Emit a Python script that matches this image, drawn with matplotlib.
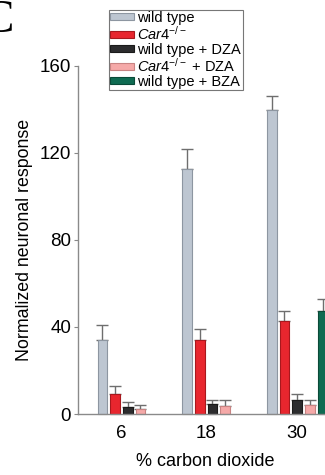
import matplotlib
matplotlib.use("Agg")
import matplotlib.pyplot as plt
import numpy as np

plt.rcParams['font.family'] = ['Liberation Sans', 'DejaVu Sans']
plt.rcParams['mathtext.fontset'] = 'custom'
plt.rcParams['mathtext.rm'] = 'Liberation Sans'
plt.rcParams['mathtext.it'] = 'Liberation Sans:italic'
plt.rcParams['mathtext.bf'] = 'Liberation Sans:bold'

co2_levels = ["6", "18", "30"]
series_names = ["wild type", "$\\mathit{Car4}^{-/-}$", "wild type + DZA", "$\\mathit{Car4}^{-/-}$ + DZA", "wild type + BZA"]
series_colors = ["#bdc6d1", "#e8262e", "#2c2c2e", "#f5a9a8", "#0f6b52"]
edge_colors = ["#8d96a1", "#a8181d", "#1a1a1a", "#c98483", "#0a4a38"]
# values per series for each CO2 level (None = not measured)
wild_type = [34.2, 112.5, 139.5]
car4 = [9.0, 34.2, 42.7]
wild_dza = [3.3, 4.6, 6.4]
car4_dza = [2.1, 3.7, 4.3]
wild_bza = [None, None, 47.3]
wild_type_err = [6.6, 9.2, 6.5]
car4_err = [3.8, 5.0, 4.8]
wild_dza_err = [2.3, 1.8, 2.6]
car4_dza_err = [1.9, 2.7, 2.1]
wild_bza_err = [None, None, 5.7]

values = [wild_type, car4, wild_dza, car4_dza, wild_bza]
errors = [wild_type_err, car4_err, wild_dza_err, car4_dza_err, wild_bza_err]

fig = plt.figure(figsize=(3.25, 4.75), dpi=100)
ax = fig.add_axes([0.24, 0.1284, 0.78, 0.7333])

step = 0.15
width = 0.115
tick_pos = []
for g in range(len(co2_levels)):
    present = [j for j in range(len(values)) if values[j][g] is not None]
    tick_pos.append(g + step * (present[0] + present[-1]) / 2)
for j, (vals, errs) in enumerate(zip(values, errors)):
    xs = [g + j * step for g in range(len(co2_levels)) if vals[g] is not None]
    vs = [v for v in vals if v is not None]
    es = [e for e in errs if e is not None]
    ax.bar(xs, vs, width=width, color=series_colors[j], edgecolor=edge_colors[j],
           linewidth=0.8, zorder=2, label=series_names[j], clip_on=False)
    ax.errorbar(xs, vs, yerr=[np.zeros(len(es)), es], fmt='none', ecolor='#6e6e6e',
                elinewidth=1.0, capsize=4.5, capthick=1.0, zorder=1, clip_on=False)

ax.set_xlim(-0.288, 2.706)
ax.set_ylim(0, 160)
ax.set_yticks([0, 40, 80, 120, 160])
ax.set_xticks(tick_pos)
ax.set_xticklabels(co2_levels)
ax.tick_params(axis='x', length=0, pad=8, labelsize=13.5)
ax.tick_params(axis='y', length=3, width=0.8, color='#888888', pad=2, labelsize=13.5)
for s in ['top', 'right']:
    ax.spines[s].set_visible(False)
for s in ['left', 'bottom']:
    ax.spines[s].set_color('#8a8a8a')
    ax.spines[s].set_linewidth(1.0)
ax.set_ylabel("Normalized neuronal response", fontsize=12.8, labelpad=5)
ax.set_xlabel("% carbon dioxide", fontsize=13, labelpad=8)

leg = fig.legend(loc='upper left', bbox_to_anchor=(0.335, 0.98), fontsize=10.5,
                 frameon=True, fancybox=False, edgecolor='#555555', handlelength=1.6,
                 handleheight=0.35, handletextpad=0.25, labelspacing=0.0, borderpad=0.1,
                 borderaxespad=0)
leg.get_frame().set_linewidth(0.8)

fig.text(0.04, 1 - 32 / 475, "C", family='Liberation Serif', fontsize=34, ha='right', va='baseline')

fig.savefig("out.png", dpi=100)
